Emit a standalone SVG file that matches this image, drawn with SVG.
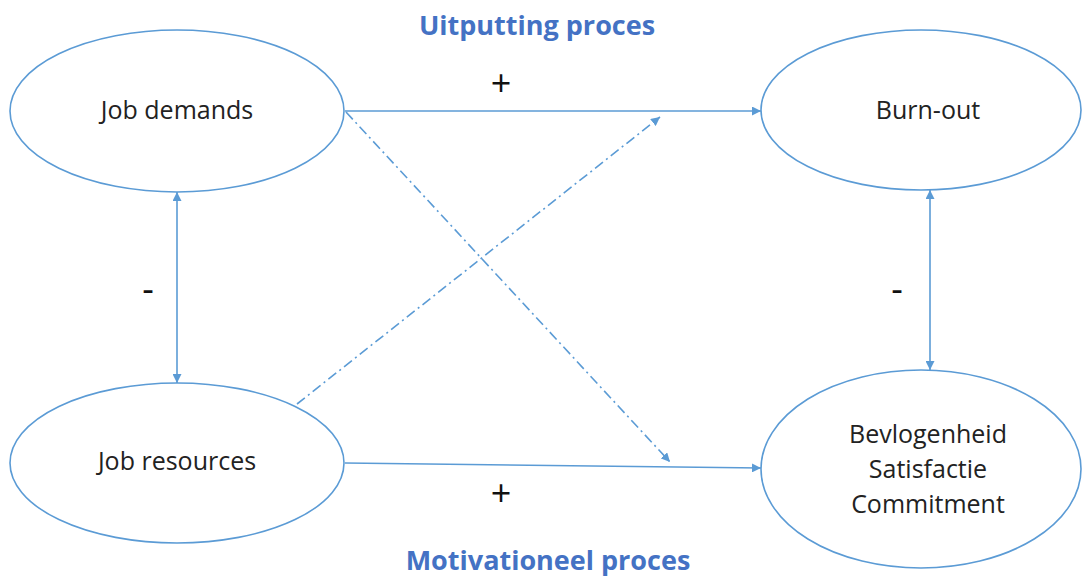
<svg xmlns="http://www.w3.org/2000/svg" width="1083" height="579" viewBox="0 0 1083 579">
<defs>
<marker id="ah" viewBox="0 0 10 10" refX="10" refY="5" markerWidth="9" markerHeight="9" markerUnits="userSpaceOnUse" orient="auto-start-reverse">
<path d="M0,0 L10,5 L0,10 z" fill="#5B9BD5"/>
</marker>
<style>
.node{fill:#fff;stroke:#5B9BD5;stroke-width:1.6}
.lbl{font-family:"Open Sans","Liberation Sans",sans-serif;font-size:25px;fill:#222;text-anchor:middle}
.title{font-family:"Open Sans","Liberation Sans",sans-serif;font-size:27px;font-weight:bold;fill:#4472C4;text-anchor:middle}
.sign{font-family:"Open Sans","Liberation Sans",sans-serif;font-size:36px;fill:#111;text-anchor:middle}
.con{stroke:#5B9BD5;stroke-width:1.6;fill:none}
.dash{stroke-dasharray:10 4 2 4}
</style>
</defs>
<rect width="1083" height="579" fill="#fff"/>
<g id="connectors">
<line class="con" x1="345" y1="111" x2="761" y2="111" marker-end="url(#ah)"/>
<line class="con" x1="345" y1="463" x2="761" y2="468" marker-end="url(#ah)"/>
<line class="con dash" x1="346" y1="112" x2="670" y2="462" marker-end="url(#ah)"/>
<line class="con dash" x1="297" y1="404" x2="660" y2="117" marker-end="url(#ah)"/>
<line class="con" x1="177" y1="192" x2="177" y2="383" marker-start="url(#ah)" marker-end="url(#ah)"/>
<line class="con" x1="930" y1="190" x2="930" y2="370" marker-start="url(#ah)" marker-end="url(#ah)"/>
</g>
<g id="job-demands">
<ellipse class="node" cx="177" cy="111" rx="167" ry="81"/>
<text class="lbl" x="177" y="119">Job demands</text>
</g>
<g id="burn-out">
<ellipse class="node" cx="921" cy="110" rx="160" ry="80"/>
<text class="lbl" x="928" y="119">Burn-out</text>
</g>
<g id="job-resources">
<ellipse class="node" cx="177" cy="463" rx="167" ry="80"/>
<text class="lbl" x="177" y="470">Job resources</text>
</g>
<g id="bevlogenheid">
<ellipse class="node" cx="921" cy="469" rx="160" ry="99"/>
<text class="lbl" x="928" y="443">Bevlogenheid</text>
<text class="lbl" x="928" y="478">Satisfactie</text>
<text class="lbl" x="928" y="513">Commitment</text>
</g>
<g id="labels">
<text class="title" x="537" y="35">Uitputting proces</text>
<text class="title" x="548" y="570">Motivationeel proces</text>
<text class="sign" x="501" y="96">+</text>
<text class="sign" x="501" y="506">+</text>
<text class="sign" x="148" y="302">-</text>
<text class="sign" x="897" y="302">-</text>
</g>
</svg>
